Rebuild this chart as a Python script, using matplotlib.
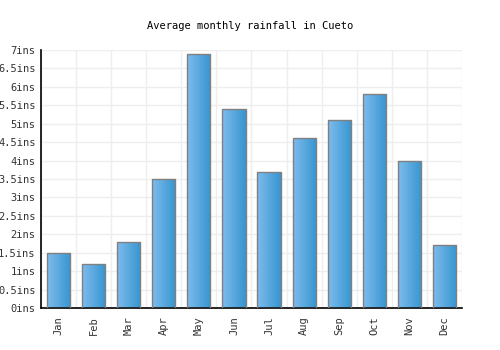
import matplotlib
matplotlib.use("Agg")
import matplotlib.pyplot as plt
import numpy as np
from matplotlib.colors import LinearSegmentedColormap

months = ["Jan", "Feb", "Mar", "Apr", "May", "Jun", "Jul", "Aug", "Sep", "Oct", "Nov", "Dec"]
rainfall = [1.5, 1.2, 1.8, 3.5, 6.9, 5.4, 3.7, 4.6, 5.1, 5.8, 4.0, 1.7]
yticks = [0, 0.5, 1, 1.5, 2, 2.5, 3, 3.5, 4, 4.5, 5, 5.5, 6, 6.5, 7]
ytick_labels = [("%g" % v) + "ins" for v in yticks]
title = "Average monthly rainfall in Cueto"

plt.rcParams['font.family'] = ['DejaVu Sans Mono']
fig = plt.figure(figsize=(5, 3.5), dpi=100)
ax = fig.add_axes([0.082, 0.12, 0.842, 0.737])

x = np.arange(len(months))
bars = ax.bar(x, rainfall, width=0.66, color="none", edgecolor="#808080", linewidth=1.0, zorder=3)
cmap = LinearSegmentedColormap.from_list("g", ["#7dbcec", "#3795d0"])
grad = np.linspace(0, 1, 64).reshape(1, -1)
for b in bars:
    x0, y0 = b.get_x(), b.get_y()
    w, h = b.get_width(), b.get_height()
    im = ax.imshow(grad, extent=[x0, x0 + w, y0, y0 + h], aspect="auto", cmap=cmap, zorder=2, interpolation="bilinear")
    im.set_clip_path(b)

ax.set_xlim(-0.5, len(months) - 0.5)
ax.set_ylim(0, 7)
ax.set_yticks(yticks)
ax.set_yticklabels(ytick_labels, fontsize=7.5, color="#333333")
ax.set_xticks(x)
ax.set_xticklabels(months, rotation=90, fontsize=7.5, color="#333333")
ax.set_xticks(np.arange(-0.5, len(months), 1), minor=True)
ax.tick_params(axis="x", which="major", length=0, pad=6)
ax.tick_params(axis="x", which="minor", length=0)
ax.tick_params(axis="y", length=0, pad=4)
ax.grid(True, which="minor", axis="x", color="#eeeeee", linewidth=1, zorder=0)
ax.grid(True, which="major", axis="y", color="#eeeeee", linewidth=1, zorder=0)
ax.set_axisbelow(True)
for s in ["top", "right"]:
    ax.spines[s].set_visible(False)
ax.spines["left"].set_color("black")
ax.spines["bottom"].set_color("black")
ax.spines["left"].set_linewidth(1.2)
ax.spines["bottom"].set_linewidth(1.2)

fig.text(0.5, 0.925, title, ha="center", va="center", fontsize=7.5, color="black")
fig.savefig("out.png", dpi=100, facecolor="white")
